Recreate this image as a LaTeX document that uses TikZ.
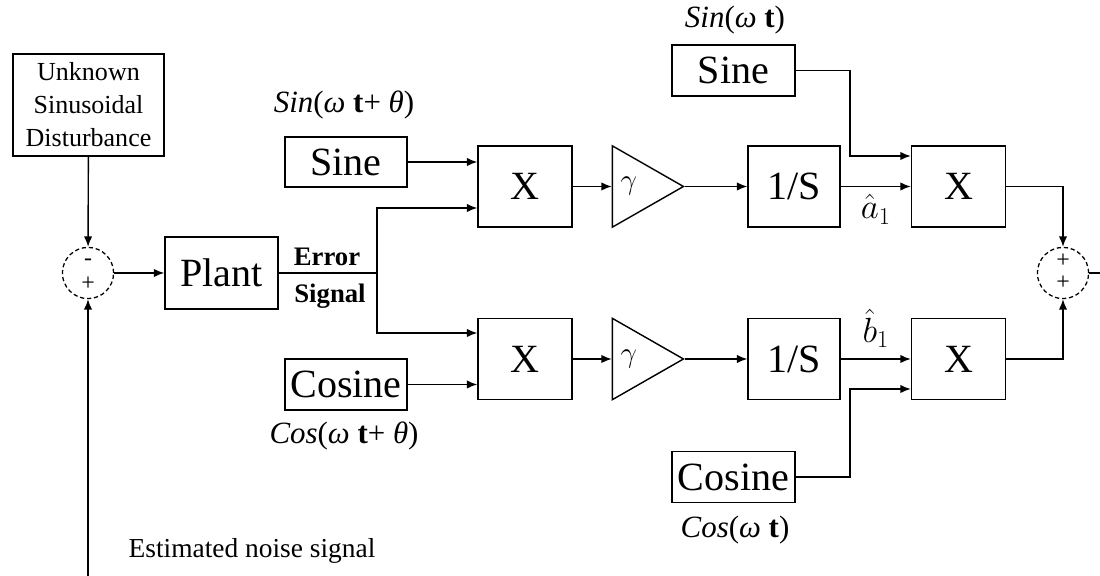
\documentclass[tikz,border=0pt]{standalone}
\usepackage{fontspec}
\setmainfont{Liberation Serif}
\usetikzlibrary{arrows.meta,positioning,shapes.geometric,calc}

\begin{document}
\begin{tikzpicture}[
  x=0.025cm, y=-0.025cm,
  block/.style={
    draw,
    line width=1pt,
    inner sep=0pt,
    align=center,
    font=\fontsize{28.5}{30}\selectfont
  },
  mult/.style={minimum width=2.35cm, minimum height=2.03cm},
  integ/.style={minimum width=2.3cm, minimum height=2.03cm},
  osc/.style={minimum width=3.075cm, minimum height=1.27cm},
  sumnode/.style={circle, draw, densely dashed, line width=0.9pt, minimum size=1.28cm, inner sep=0pt},
  sign/.style={inner sep=0pt, font=\fontsize{17}{17}\selectfont},
  gain/.style={
    isosceles triangle,
    isosceles triangle stretches,
    draw,
    line width=1pt,
    inner sep=0pt,
    minimum width=2.03cm,
    minimum height=1.775cm
  },
  siglabel/.style={inner sep=0pt, font=\fontsize{22}{24}\selectfont},
  arrow/.style={-{Latex[length=2.6mm,width=2.1mm]}, line width=1pt}
]
  \useasboundingbox (0,0) rectangle (1100,576);

  % disturbance and first summing point
  \node[block, minimum width=3.775cm, minimum height=2.55cm, font=\fontsize{18.5}{23.5}\selectfont] (dist) at (88.5,105) {Unknown\\Sinusoidal\\Disturbance};
  \node[sumnode] (sum1) at (88,273) {};
  \node[sign] (sum1m) at ([yshift=0.28cm]sum1.center) {-};
  \node[sign] (sum1p) at ([yshift=-0.27cm]sum1.center) {+};
  \node[block, minimum width=2.825cm, minimum height=1.8cm, right=1.25cm of sum1] (plant) {Plant};
  \coordinate (split) at (377,273);
  \coordinate (fb) at (88,576);

  % reference oscillators
  \node[block, minimum width=3.05cm, minimum height=1.25cm] (sin1) at (346,162) {Sine};
  \node[block, minimum width=3.05cm, minimum height=1.27cm] (cos1) at (346,384.5) {Cosine};
  \node[siglabel] (sin1lbl) at (344,105) {\textit{Sin}(\textit{ω} \textbf{t}+ \textit{θ})};
  \node[siglabel] (cos1lbl) at (344,436) {\textit{Cos}(\textit{ω} \textbf{t}+ \textit{θ})};

  % upper branch
  \node[block, mult] (mul1) at (525,186.5) {X};
  \node[gain, right=0.975cm of mul1] (g1) {};
  \node[siglabel] (gam1) at ([xshift=0.43cm]g1.west) {$\gamma$};
  \node[block, integ, right=1.55cm of g1] (int1) {1/S};
  \node[block, mult, right=1.75cm of int1] (mul3) {X};
  \node[block, osc] (sin2) at (733.5,70.5) {Sine};
  \node[siglabel] (sin2lbl) at (735,20) {\textit{Sin}(\textit{ω} \textbf{t})};
  \coordinate (k1) at (850,156);

  % lower branch
  \node[block, mult] (mul2) at (525,359) {X};
  \node[gain, right=0.975cm of mul2] (g2) {};
  \node[siglabel] (gam2) at ([xshift=0.43cm]g2.west) {$\gamma$};
  \node[block, integ, right=1.55cm of g2] (int2) {1/S};
  \node[block, mult, right=1.75cm of int2] (mul4) {X};
  \node[block, osc] (cos2) at (733.5,477) {Cosine};
  \node[siglabel] (cos2lbl) at (735,530) {\textit{Cos}(\textit{ω} \textbf{t})};
  \coordinate (k2) at (850,389);

  % output summing point
  \node[sumnode] (sum2) at (1063,273) {};
  \node[sign] (sum2a) at ([yshift=0.3cm]sum2.center) {+};
  \node[sign] (sum2b) at ([yshift=-0.25cm]sum2.center) {+};
  \coordinate (out) at (1100,273);

  % connectors
  \draw[arrow] (dist) -- (sum1);
  \draw[arrow] (fb) -- (sum1);
  \draw[arrow] (sum1) -- (plant);
  \draw[line width=1pt] (plant) -- (split);
  \draw[arrow] (split) |- (mul1.west |- 0,208);
  \draw[arrow] (split) |- (mul2.west |- 0,333);
  \draw[arrow] (sin1.east) -- (mul1.west |- sin1.east);
  \draw[arrow] (cos1.east) -- (mul2.west |- cos1.east);
  \draw[arrow] (mul1) -- (g1);
  \draw[arrow] (g1.apex) -- (int1);
  \draw[arrow] (int1) -- node[below=2pt, font=\fontsize{26}{26}\selectfont] (ahat) {$\hat{a}_1$} (mul3);
  \draw[arrow] (sin2.east) -| (k1) -- (mul3.west |- k1);
  \draw[arrow] (mul2) -- (g2);
  \draw[arrow] (g2.apex) -- (int2);
  \draw[arrow] (int2) -- node[above=4pt, font=\fontsize{26}{26}\selectfont] (bhat) {$\hat{b}_1$} (mul4);
  \draw[arrow] (cos2.east) -| (k2) -- (mul4.west |- k2);
  \draw[arrow] (mul3) -| (sum2);
  \draw[arrow] (mul4) -| (sum2);
  \draw[line width=1pt] (sum2) -- (out);

  % signal names
  \node[font=\bfseries\fontsize{19}{19}\selectfont] (err1) at (327,257) {Error};
  \node[font=\bfseries\fontsize{19}{19}\selectfont] (err2) at (330,296) {Signal};
  \node[font=\fontsize{19.5}{19.5}\selectfont] (est) at (252,551) {Estimated noise signal};
\end{tikzpicture}
\end{document}
